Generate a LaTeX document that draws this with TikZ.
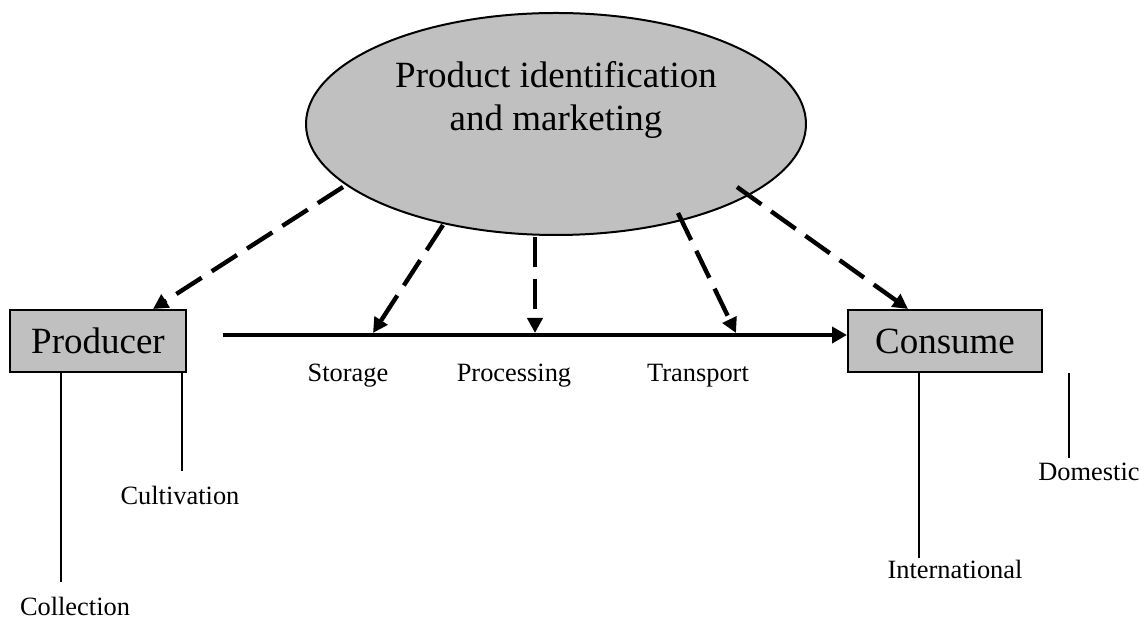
\documentclass[tikz,border=0pt]{standalone}
\usepackage{fontspec}
\setmainfont{Liberation Serif}
\usepackage{tikz}
\usetikzlibrary{arrows.meta, shapes.geometric}
\definecolor{boxgray}{RGB}{192,192,192}
\newcommand{\bigtext}{\fontsize{18.5pt}{21.5pt}\selectfont}
\newcommand{\smalltext}{\fontsize{13.2pt}{16pt}\selectfont}

\begin{document}
\begin{tikzpicture}[x=0.5pt, y=-0.5pt,
  box/.style={draw, line width=1pt, fill=boxgray, minimum height=31pt, inner sep=0pt, font=\bigtext},
  lbl/.style={anchor=base, inner sep=0pt, font=\smalltext},
  dasharrow/.style={-{Triangle[length=7.5pt,width=7.5pt]}, line width=2.2pt, dash pattern=on 15pt off 6pt},
  leg/.style={line width=1pt}]
\useasboundingbox (0,0) rectangle (1147,619);
\node[draw, ellipse, fill=boxgray, line width=1pt, minimum width=250pt, minimum height=111pt] (pim) at (556,124) {};
\node[align=center, inner sep=0pt, font=\bigtext] (pimtext) at (556,100) {Product identification\\and marketing};
\node[box, minimum width=88pt] (producer) at (98,341) {Producer};
\node[box, minimum width=97pt] (consume) at (945,341) {Consume};

\coordinate (flow) at (223,335);
\coordinate (storagept) at (373,333);
\coordinate (processingpt) at (535,333);
\coordinate (transportpt) at (736,333);
\draw[-{Triangle[length=7.5pt,width=8pt]}, line width=2pt] (flow) -- (flow -| consume.west);

\draw[dasharrow] ([shift={(-213,63)}]pim.center) -- ([xshift=-17pt]producer.north east);
\draw[dasharrow] ([shift={(-113,101)}]pim.center) -- (storagept);
\draw[dasharrow] ([shift={(-21,113)}]pim.center) -- (processingpt);
\draw[dasharrow] ([shift={(122,89)}]pim.center) -- (transportpt);
\draw[dasharrow] ([shift={(181,63)}]pim.center) -- ([xshift=-18.5pt]consume.north);

\node[lbl] (storage) at (348,382) {Storage};
\node[lbl] (processing) at (514,382) {Processing};
\node[lbl] (transport) at (698,382) {Transport};

\node[lbl] (cultivation) at (180,505) {Cultivation};
\node[lbl] (collection) at (75,616) {Collection};
\node[lbl] (international) at (955,579) {International};
\node[lbl] (domestic) at (1089,481) {Domestic};

\coordinate (collend) at (61,582);
\coordinate (cultend) at (182,471);
\coordinate (intlend) at (919,558);
\coordinate (domend) at (1069,458);
\draw[leg] (collend |- producer.south) -- (collend);
\draw[leg] (cultend |- producer.south) -- (cultend);
\draw[leg] (intlend |- consume.south) -- (intlend);
\draw[leg] (domend |- consume.south) -- (domend);
\end{tikzpicture}
\end{document}
